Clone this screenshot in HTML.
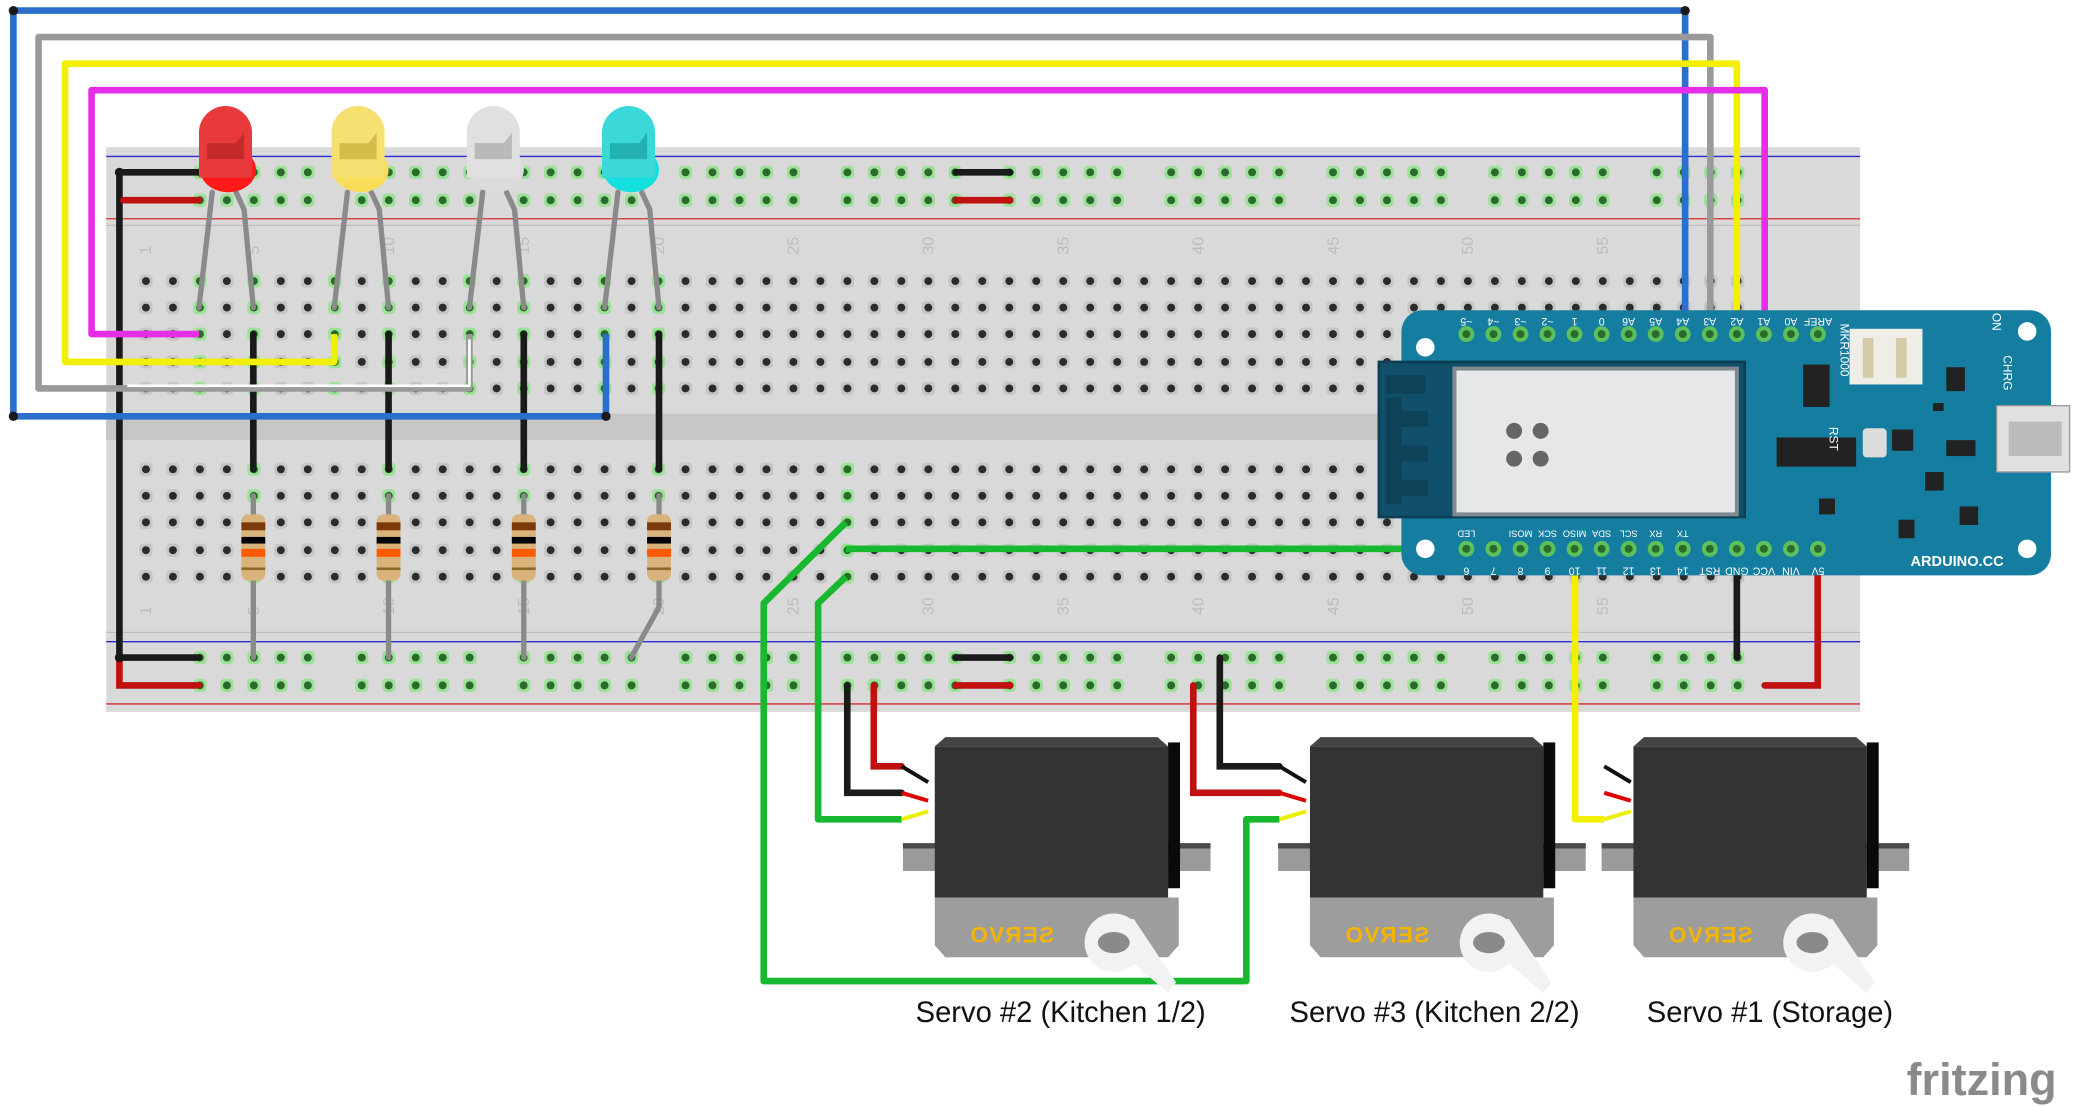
<!DOCTYPE html>
<html><head><meta charset="utf-8"><style>
html,body{margin:0;padding:0;background:#fff;}
svg{display:block;}
text{font-family:"Liberation Sans",sans-serif;}
</style></head><body>
<svg id="s" width="2079" height="1107" viewBox="0 0 1568 835" xmlns="http://www.w3.org/2000/svg">
<rect width="1568" height="835" fill="#fff"/>
<rect x="80" y="111" width="1323" height="426" fill="#d9d9d9"/>
<rect x="80" y="312" width="1323" height="20" fill="#c9c7c5"/>
<line x1="80" y1="118" x2="1403" y2="118" stroke="#2b2bd6" stroke-width="1"/>
<line x1="80" y1="165" x2="1403" y2="165" stroke="#d62b2b" stroke-width="1"/>
<line x1="80" y1="170" x2="1403" y2="170" stroke="#bdbdbd" stroke-width="1"/>
<line x1="80" y1="477" x2="1403" y2="477" stroke="#bdbdbd" stroke-width="1"/>
<line x1="80" y1="484" x2="1403" y2="484" stroke="#2b2bd6" stroke-width="1"/>
<line x1="80" y1="531" x2="1403" y2="531" stroke="#d62b2b" stroke-width="1"/>
<g id="holes"></g>
<g id="nums" fill="#bcbcbc" font-size="12"></g>

<g stroke="#8a8a8a" stroke-width="4" fill="none" stroke-linecap="round">
<path d="M160 145 L150 232"/><path d="M178 145 L184 158 L191 232"/>
<path d="M262 145 L252 232"/><path d="M280 145 L286 158 L293 232"/>
<path d="M364 145 L354 232"/><path d="M382 145 L388 158 L395 232"/>
<path d="M466 145 L456 232"/><path d="M484 145 L490 158 L497 232"/>
<path d="M191 374 L191 496"/><path d="M293 374 L293 496"/><path d="M395 374 L395 496"/><path d="M497 374 L497 458 L476 496"/>
</g>
<g id="res"></g>

<g stroke="#1a1a1a" stroke-width="5" stroke-linecap="round" fill="none">
<path d="M191 252 V354"/><path d="M293 252 V354"/><path d="M395 252 V354"/><path d="M497 252 V354"/>
<path d="M150 130 H90 V496 H150"/>
<path d="M721 130 H762"/><path d="M721 496 H762"/>
<path d="M1310 414 V496"/>
<path d="M639 517 V598 H680"/>
<path d="M920 496 V578 H965"/>
</g>
<g stroke="#c01010" stroke-width="5" stroke-linecap="round" fill="none">
<path d="M93 151 H150"/><path d="M90 496 V517 H150"/>
<path d="M721 151 H762"/><path d="M721 517 H762"/>
<path d="M1371 414 V517 H1331"/>
<path d="M659 517 V578 H680"/>
<path d="M900 517 V598 H965"/>
</g>
<g fill="none" stroke-width="5" stroke-linejoin="round">
<path d="M457 252 V314 H10 V8 H1271 V252" stroke="#2a6fcc"/>
<path d="M354 252 V293 H29 V28 H1290 V252" stroke="#9a9a9a"/>
<path d="M354 256 V291 H96" stroke="#fff" stroke-width="2"/>
<path d="M252 252 V273 H49 V48 H1310 V252" stroke="#f2ef00"/>
<path d="M150 252 H69 V68 H1331 V252" stroke="#e62ee6"/>
<path d="M638 394 L576 455 V740 H940 V618 H965" stroke="#18b830"/>
<path d="M638 414 H1106" stroke="#18b830"/>
<path d="M638 435 L617 455 V618 H680" stroke="#18b830"/>
<path d="M1188 414 V618 H1210" stroke="#f2ef00"/>
</g>
<g fill="#1a1a1a"><circle cx="10" cy="8" r="3.5"/><circle cx="10" cy="314" r="3.5"/><circle cx="457" cy="314" r="3.5"/><circle cx="1271" cy="8" r="3.5"/>
<circle cx="90" cy="130" r="3.5"/><circle cx="90" cy="496" r="3.5"/></g>

<g id="leds"></g>

<g>
<rect x="1057" y="234" width="490" height="200" rx="16" fill="#157da0"/>
<rect x="1040" y="273" width="276" height="117" fill="#10506a" stroke="#0c3f55" stroke-width="2"/>
<rect x="1097" y="278" width="213" height="110" fill="#e6e7e8" stroke="#7f8a90" stroke-width="3"/>
<g fill="#0d4258"><rect x="1045" y="283" width="30" height="14"/><rect x="1045" y="300" width="12" height="80"/><rect x="1057" y="310" width="20" height="12"/><rect x="1057" y="336" width="20" height="12"/><rect x="1057" y="362" width="20" height="12"/></g>
<g fill="#666"><circle cx="1142" cy="325" r="6"/><circle cx="1162" cy="325" r="6"/><circle cx="1142" cy="346" r="6"/><circle cx="1162" cy="346" r="6"/></g>
<circle cx="1075" cy="262" r="7" fill="#fff"/><circle cx="1075" cy="414" r="7" fill="#fff"/>
<circle cx="1529" cy="250" r="7" fill="#fff"/><circle cx="1529" cy="414" r="7" fill="#fff"/>
<rect x="1395" y="248" width="55" height="42" fill="#efeee6"/><rect x="1405" y="255" width="8" height="30" fill="#d4caa8"/><rect x="1430" y="255" width="8" height="30" fill="#d4caa8"/>
<rect x="1506" y="306" width="55" height="50" fill="#e0e0e0" stroke="#999"/><rect x="1515" y="318" width="40" height="26" fill="#bbb"/>
<rect x="1405" y="323" width="18" height="22" rx="3" fill="#ddd"/>
<g fill="#222"><rect x="1360" y="275" width="20" height="32"/><rect x="1340" y="330" width="60" height="22"/><rect x="1427" y="324" width="16" height="16"/><rect x="1468" y="277" width="14" height="18"/><rect x="1468" y="332" width="22" height="12"/><rect x="1452" y="356" width="14" height="14"/><rect x="1478" y="382" width="14" height="14"/><rect x="1432" y="392" width="12" height="14"/><rect x="1372" y="376" width="12" height="12"/><rect x="1458" y="304" width="8" height="6"/></g>
<g id="mkpins"></g>
<g fill="#fff" font-size="8">
<text transform="translate(1388 244) rotate(90)" font-size="9">MKR1000</text>
<text transform="translate(1503 236) rotate(90)" font-size="9">ON</text>
<text transform="translate(1511 268) rotate(90)" font-size="9">CHRG</text>
<text transform="translate(1380 322) rotate(90)" font-size="9">RST</text>
<text x="1441" y="427" font-size="11" font-weight="bold">ARDUINO.CC</text>
</g>
</g>

<defs>
<g id="servo">
<rect x="-24" y="73" width="232" height="21" fill="#9a9a9a"/>
<rect x="-24" y="73" width="232" height="4" fill="#4a4a4a"/>
<rect x="0" y="0" width="176" height="114" fill="#333"/>
<polygon points="0,0 8,-7 168,-7 176,0" fill="#444"/>
<rect x="176" y="-3" width="9" height="110" fill="#0a0a0a"/>
<polygon points="0,114 184,114 184,150 176,159 8,159 0,150" fill="#9d9d9d"/>
<text transform="translate(90 148) scale(-1 1)" font-size="17" font-weight="bold" fill="#f4b400" letter-spacing="1">SERVO</text>
<polygon points="120,138 150,130 182,178 176,186" fill="#f2f2f2"/>
<circle cx="135" cy="148" r="22" fill="#f2f2f2"/>
<ellipse cx="135" cy="148" rx="12" ry="8" fill="#8a8a8a"/>
</g>
</defs>
<use href="#servo" x="705" y="563"/>
<use href="#servo" x="988" y="563"/>
<use href="#servo" x="1232" y="563"/>
<g stroke-width="3">
<path d="M680 578 L700 590" stroke="#111"/><path d="M680 598 L700 604" stroke="#d00"/><path d="M680 618 L700 612" stroke="#ee0"/>
<path d="M965 578 L985 590" stroke="#111"/><path d="M965 598 L985 604" stroke="#d00"/><path d="M965 618 L985 612" stroke="#ee0"/>
<path d="M1210 578 L1230 590" stroke="#111"/><path d="M1210 598 L1230 604" stroke="#d00"/><path d="M1210 618 L1230 612" stroke="#ee0"/>
</g>
<g font-size="22" fill="#111" text-anchor="middle">
<text x="800" y="771">Servo #2 (Kitchen 1/2)</text>
<text x="1082" y="771">Servo #3 (Kitchen 2/2)</text>
<text x="1335" y="771">Servo #1 (Storage)</text>
</g>
<text x="1438" y="826" font-size="34" fill="#8a8a8a" font-weight="bold">fritzing</text>
</svg>
<script>
(function(){
var NS="http://www.w3.org/2000/svg";
function el(t,a,p){var e=document.createElementNS(NS,t);for(var k in a)e.setAttribute(k,a[k]);p.appendChild(e);return e;}
var H=document.getElementById('holes');
function cx(n){return 110+(n-1)*20.35;}
var green={3:1,5:1,8:1,10:1,13:1,15:1,18:1,20:1};
function hole(x,y,g){el('rect',{x:x-5,y:y-5,width:10,height:10,rx:3,fill:g?'#9ee09a':'#c6c6c6'},H);el('circle',{cx:x,cy:y,r:3,fill:g?'#2a6a2a':'#2b2b2b'},H);}
var topRows=[212,232,252,273,293],botRows=[354,374,394,415,435];
for(var n=1;n<=60;n++){var x=cx(n);
 for(var i=0;i<5;i++){hole(x,topRows[i],green[n]);}
 for(var i=0;i<5;i++){hole(x,botRows[i],(n==5||n==10||n==15||n==20||n==27));}}
for(var n=3;n<=60;n++){if((n-3)%6==5)continue;var x=cx(n);[130,151,496,517].forEach(function(y){hole(x,y,true);});}
var N=document.getElementById('nums');
[1,5,10,15,20,25,30,35,40,45,50,55].forEach(function(n){[192,464].forEach(function(y){var t=el('text',{transform:'translate('+(cx(n)+4)+' '+y+') rotate(-90)'},N);t.textContent=n;});});
var R=document.getElementById('res');
[191,293,395,497].forEach(function(x){el('rect',{x:x-9,y:388,width:18,height:50,rx:5,fill:'#d9b27c'},R);
 el('rect',{x:x-9,y:394,width:18,height:6,fill:'#7a3a0a'},R);el('rect',{x:x-9,y:405,width:18,height:5,fill:'#000'},R);
 el('rect',{x:x-9,y:414,width:18,height:6,fill:'#ff5a00'},R);el('rect',{x:x-9,y:428,width:18,height:2,fill:'#8a6a2a'},R);});
var L=document.getElementById('leds');
[[170,'#e83a3a','#ff1a1a','#b82222'],[270,'#f5e070','#f7dd5a','#c8ad3a'],[372,'#e0e0e0','#dcdcdc','#a8a8a8'],[474,'#3ad8d8','#14e0e0','#1aa0a0']].forEach(function(d){
 var x=d[0];el('ellipse',{cx:x+2,cy:128,rx:21,ry:17,fill:d[2]},L);
 el('path',{d:'M'+(x-20)+' 134 V100 A20 20 0 0 1 '+(x+20)+' 100 V134 Z',fill:d[1]},L);
 el('path',{d:'M'+(x-14)+' 108 H'+(x+8)+' L'+(x+14)+' 100 V120 H'+(x-14)+' Z',fill:d[3],opacity:0.7},L);});
var P=document.getElementById('mkpins');
var tl=['~5','~4','~3','~2','1','0','A6','A5','A4','A3','A2','A1','A0','AREF'];
var bl=['6','7','8','9','10','11','12','13','14','RST','GND','VCC','VIN','5V'];
var ul=['LED','','MOSI','SCK','MISO','SDA','SCL','RX','TX','','','','',''];
for(var i=0;i<14;i++){var x=1106+i*20.4;
 [252,414].forEach(function(y){el('circle',{cx:x,cy:y,r:6,fill:'#5cc05c'},P);el('circle',{cx:x,cy:y,r:3,fill:'#2a6a2a'},P);});
 var t=el('text',{transform:'translate('+x+' 240) rotate(180)','text-anchor':'middle',fill:'#fff','font-size':'8'},P);t.textContent=tl[i];
 t=el('text',{transform:'translate('+x+' 428) rotate(180)','text-anchor':'middle',fill:'#fff','font-size':'8'},P);t.textContent=bl[i];
 if(ul[i]){t=el('text',{transform:'translate('+x+' 400) rotate(180)','text-anchor':'middle',fill:'#fff','font-size':'7'},P);t.textContent=ul[i];}}
})();
</script>
</body></html>
